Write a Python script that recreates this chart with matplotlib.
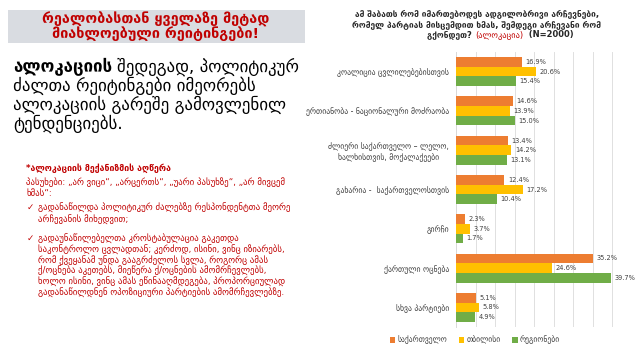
import matplotlib
matplotlib.use("Agg")
import matplotlib.pyplot as plt
import numpy as np
from matplotlib.patches import Rectangle

plt.rcParams['font.family'] = ['DejaVu Sans']

categories = [
    "კოალიცია ცვლილებებისთვის",
    "ერთიანობა - ნაციონალური მოძრაობა",
    "ძლიერი საქართველო – ლელო,\nხალხისთვის, მოქალაქეები",
    "გახარია -  საქართველოსთვის",
    "გირჩი",
    "ქართული ოცნება",
    "სხვა პარტიები",
]
series_names = ["საქართველო", "თბილისი", "რეგიონები"]
georgia = [16.9, 14.6, 13.4, 12.4, 2.3, 35.2, 5.1]
tbilisi = [20.6, 13.9, 14.2, 17.2, 3.7, 24.6, 5.8]
regions = [15.4, 15.0, 13.1, 10.4, 1.7, 39.7, 4.9]
colors = ["#ED7D31", "#FFC000", "#70AD47"]

W, H = 635, 355
fig = plt.figure(figsize=(W / 100, H / 100), dpi=100)

def fx(x):
    return x / W

def fy(y):
    return 1 - y / H

red = "#C00000"

# ---- left side ----
fig.patches.append(Rectangle((fx(8), fy(43)), fx(297), 33 / H, transform=fig.transFigure,
                             facecolor="#D9DCE1", edgecolor="none", zorder=0))
fig.text(fx(156), fy(19), "რეალობასთან ყველაზე მეტად", color=red, fontsize=10.4,
         fontweight="bold", ha="center", va="center")
fig.text(fx(156), fy(34), "მიახლოებული რეიტინგები!", color=red, fontsize=10.4,
         fontweight="bold", ha="center", va="center")

renderer = fig.canvas.get_renderer()
para_fs = 12.2
t0 = fig.text(fx(13), fy(67), "ალოკაციის", fontsize=para_fs, fontweight="bold",
              ha="left", va="center", color="black")
bb = t0.get_window_extent(renderer=renderer)
fig.text(bb.x1 / W + 0.008, fy(67), "შედეგად, პოლიტიკურ", fontsize=para_fs,
         ha="left", va="center", color="black")
para_lines = ["ძალთა რეიტინგები იმეორებს", "ალოკაციის გარეშე გამოვლენილ", "ტენდენციებს."]
for i, ln in enumerate(para_lines):
    fig.text(fx(13), fy(86 + i * 19), ln, fontsize=para_fs, ha="left", va="center", color="black")

sfs = 6.3
fig.text(fx(26), fy(168), "*ალოკაციის მექანიზმის აღწერა", fontsize=sfs, fontweight="bold",
         color=red, ha="left", va="center")
fig.text(fx(26), fy(182), "პასუხები: „არ ვიცი“, „არცერთს“, „უარი პასუხზე“, „არ მივცემ",
         fontsize=sfs, color=red, ha="left", va="center")
fig.text(fx(26), fy(193), "ხმას“:", fontsize=sfs, color=red, ha="left", va="center")
fig.text(fx(27), fy(207), "✓", fontsize=sfs, color=red, ha="left", va="center")
fig.text(fx(38), fy(207), "გადანაწილდა პოლიტიკურ ძალებზე რესპონდენტთა მეორე",
         fontsize=sfs, color=red, ha="left", va="center")
fig.text(fx(38), fy(219), "არჩევანის მიხედვით;", fontsize=sfs, color=red, ha="left", va="center")
fig.text(fx(27), fy(238), "✓", fontsize=sfs, color=red, ha="left", va="center")
block2 = [
    "გადაუნაწილებელთა კროსტაბულაცია გაკეთდა",
    "საკონტროლო ცვლადთან; კერძოდ, ისინი, ვინც იზიარებს,",
    "რომ ქვეყანამ უნდა გააგრძელოს სვლა, როგორც ამას",
    "ქ/ოცნება აკეთებს, მიეწერა ქ/ოცნების ამომრჩევლებს,",
    "ხოლო ისინი, ვინც ამას ეწინააღმდეგება, პროპორციულად",
    "გადანაწილდნენ ოპოზიციური პარტიების ამომრჩევლებზე.",
]
for i, ln in enumerate(block2):
    fig.text(fx(38), fy(238 + i * 10.8), ln, fontsize=sfs, color=red, ha="left", va="center")

# ---- chart title ----
title_lines = [
    "ამ შაბათს რომ იმართებოდეს ადგილობრივი არჩევნები,",
    "რომელ პარტიას მისცემდით ხმას, შემდეგი არჩევანი რომ",
]
for i, ln in enumerate(title_lines):
    fig.text(fx(477), fy(14 + i * 10.5), ln, fontsize=6, fontweight="bold",
             ha="center", va="center", color="#262626")
ta = fig.text(fx(475), fy(35), "გქონდეთ? ", fontsize=6, fontweight="bold",
              ha="right", va="center", color="#262626")
tb = fig.text(fx(475), fy(35), "(ალოკაცია)", fontsize=6,
              ha="left", va="center", color=red)
bbb = tb.get_window_extent(renderer=renderer)
tc = fig.text(bbb.x1 / W, fy(35), "  (N=2000)", fontsize=6, fontweight="bold",
              ha="left", va="center", color="#262626")

# ---- chart ----
ax = fig.add_axes([fx(456), fy(327), fx(631.5) - fx(456), (327 - 52) / H])
y = np.arange(len(categories))
bh = 0.245
data = [georgia, tbilisi, regions]
for k, (vals, c, name) in enumerate(zip(data, colors, series_names)):
    pos = y + (k - 1) * bh
    ax.barh(pos, vals, height=bh, color=c, label=name, zorder=3)
    for p, v in zip(pos, vals):
        ax.text(v + 0.9, p, f"{v:.1f}%", fontsize=4.8, va="center", ha="left", color="#404040")

ax.set_xlim(0, 45)
ax.set_ylim(len(categories) - 0.5, -0.5)
ax.set_xticks(np.arange(0, 46, 5))
ax.xaxis.grid(True, color="#E0E0E0", linewidth=0.7, zorder=0)
ax.tick_params(axis="x", length=0, labelbottom=False)
ax.tick_params(axis="y", length=0, labelsize=5.6, labelcolor="#404040", pad=5)
ax.set_yticks(y)
ax.set_yticklabels(categories, ha="right", multialignment="center")
for s in ["top", "right", "bottom"]:
    ax.spines[s].set_visible(False)
ax.spines["left"].set_color("#D9D9D9")
ax.spines["left"].set_linewidth(0.7)

handles, labels = ax.get_legend_handles_labels()
fig.legend(handles, labels, loc="center", bbox_to_anchor=(fx(475), fy(340)), ncol=3,
           frameon=False, fontsize=5.5, handlelength=0.7, handleheight=0.7,
           handletextpad=0.3, columnspacing=1.5, labelcolor="#404040")

fig.savefig("out.png", dpi=100)
